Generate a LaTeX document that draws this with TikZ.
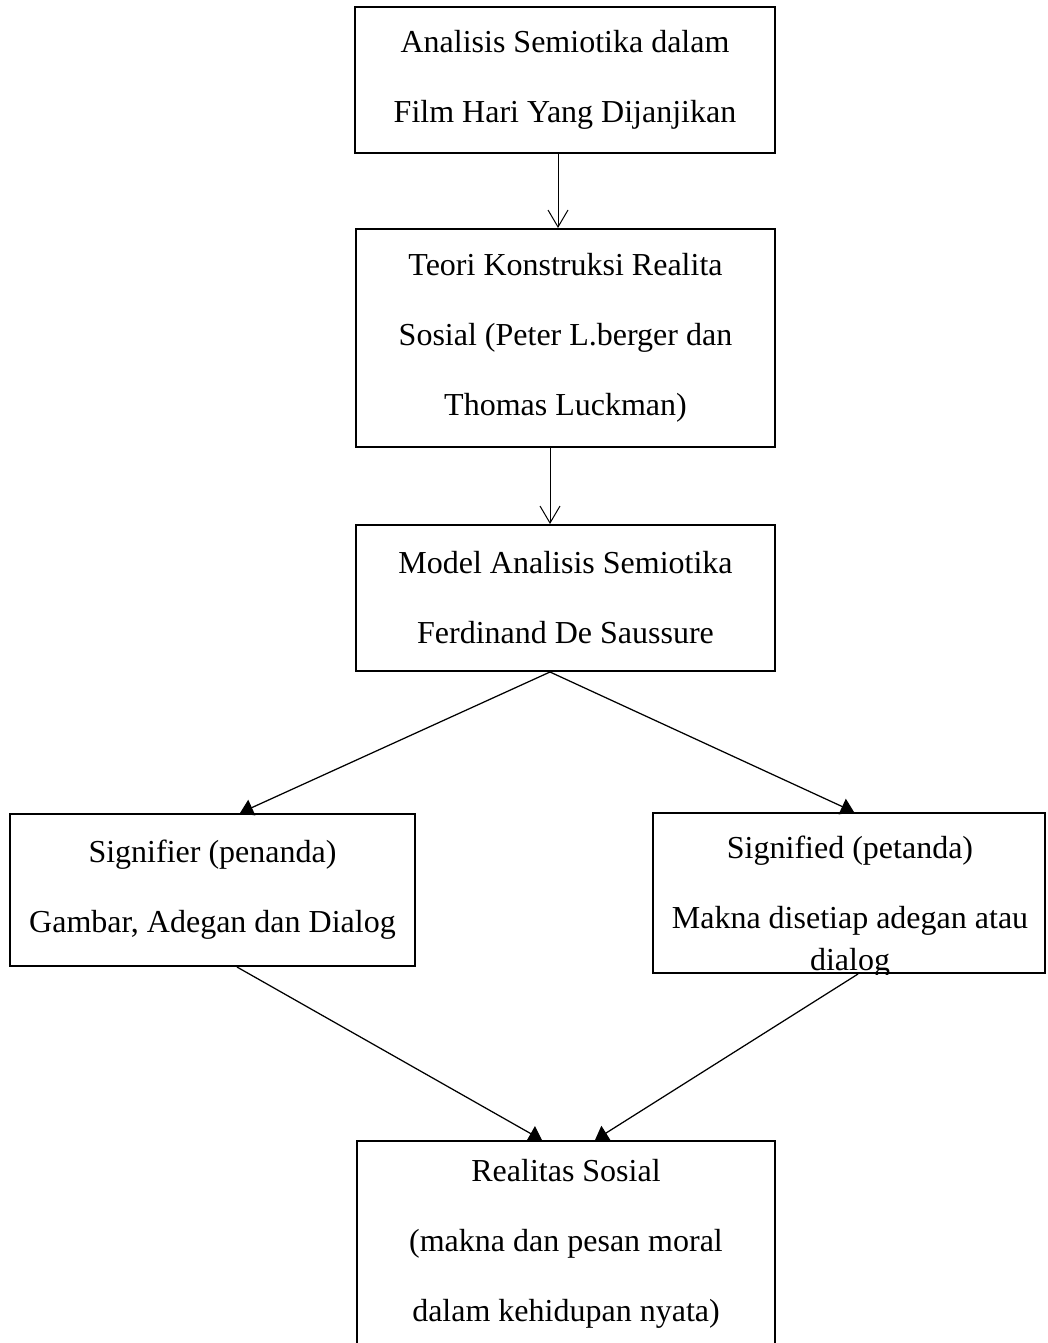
\documentclass[tikz,border=0pt]{standalone}
\usepackage{fontspec}
\setmainfont{Liberation Serif}
\usetikzlibrary{arrows.meta}

\begin{document}
\begin{tikzpicture}[
    x=0.4pt, y=-0.4pt,
    box/.style={
        rectangle,
        draw=black,
        line width=0.8pt,
        align=center,
        inner sep=0pt,
        font=\fontsize{12.8}{28}\selectfont
    },
    openarrow/.style={-{Straight Barb[length=6.8pt,width=8pt]}, line width=0.4pt},
    solidarrow/.style={-{Triangle[length=5.2pt,width=6.8pt]}, line width=0.5pt}
]
\useasboundingbox (0,0) rectangle (1047,1343);

\node[box, minimum width=168pt, minimum height=58.4pt] (ana) at (565,80) {Analisis Semiotika dalam\\Film Hari Yang Dijanjikan};
\node[box, minimum width=167.6pt, minimum height=87.2pt] (teori) at (565.5,338) {Teori Konstruksi Realita\\Sosial (Peter L.berger dan\\Thomas Luckman)};
\node[box, minimum width=167.6pt, minimum height=58.4pt] (model) at (565.5,598) {Model Analisis Semiotika\\Ferdinand De Saussure};
\node[box, minimum width=162pt, minimum height=60.8pt] (sig) at (212.5,890) {Signifier (penanda)\\Gambar, Adegan dan Dialog};
\node[box, minimum width=156.8pt, minimum height=64pt] (sd) at (849,893) {};
\node[box, minimum width=167.2pt, minimum height=82.4pt] (real) at (566,1244) {Realitas Sosial\\(makna dan pesan moral\\dalam kehidupan nyata)};

% text of the signified box is cut off by its lower edge
\begin{scope}
    \clip (sd.north west) rectangle (sd.south east);
    \node[box, draw=none, anchor=north] (sdtext) at (850,835) {Signified (petanda)\\Makna disetiap adegan atau\\[-11.2pt]dialog};
\end{scope}

\draw[openarrow] ([xshift=-2.8pt]ana.south) -- ([xshift=-3pt]teori.north);
\draw[openarrow] ([xshift=-6.2pt]teori.south) -- ([xshift=-6.2pt]model.north);
\draw[solidarrow] ([xshift=-6.2pt]model.south) -- ([xshift=11pt]sig.north);
\draw[solidarrow] ([xshift=-6.2pt]model.south) -- ([xshift=2pt]sd.north);
\draw[solidarrow] ([xshift=9.8pt]sig.south) -- ([xshift=-9.6pt]real.north);
\draw[solidarrow] ([xshift=3.6pt]sd.south) -- ([xshift=11.6pt]real.north);

\end{tikzpicture}
\end{document}
